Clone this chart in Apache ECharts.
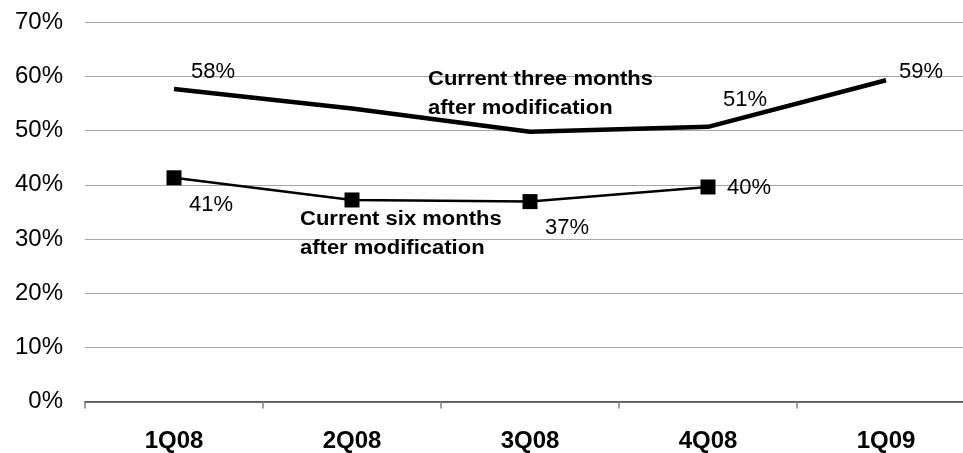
<!DOCTYPE html>
<html>
<head>
<meta charset="utf-8">
<script src="https://cdn.jsdelivr.net/npm/echarts@6/dist/echarts.min.js"></script>
<style>
html,body{margin:0;padding:0;background:#fff;}
#chart{width:963px;height:453px;}
</style>
</head>
<body>
<div id="chart"></div>
<script>
var categories = ['1Q08', '2Q08', '3Q08', '4Q08', '1Q09'];
var threeMonths = [57.7, 54.1, 49.8, 50.7, 59.3];
var sixMonths = [41.3, 37.2, 36.9, 39.6, null];
var threeMonthLabels = ['58%', '', '', '51%', '59%'];
var sixMonthLabels = ['41%', '', '37%', '40%', ''];
var yTicks = [0, 10, 20, 30, 40, 50, 60, 70];
var annotations = [
  ['Current three months', 'after modification'],
  ['Current six months', 'after modification']
];

var FONT = '"Liberation Sans", Arial, sans-serif';
var threeOffsets = [[39, -17], [0, 0], [0, 0], [37, -27], [35, -8]];
var sixOffsets = [[37, 27], [0, 0], [37, 26], [41, 1], [0, 0]];

function buildData(values, labels, offsets) {
  return values.map(function (v, i) {
    var d = { value: v };
    if (labels[i]) {
      d.label = {
        show: true,
        formatter: labels[i],
        position: 'inside',
        align: 'center',
        verticalAlign: 'middle',
        offset: offsets[i],
        color: '#000',
        fontSize: 22,
        fontFamily: FONT
      };
    } else {
      d.label = { show: false };
    }
    return d;
  });
}

var chart = echarts.init(document.getElementById('chart'), null, { renderer: 'canvas' });
var annoPos = [[428, 79.5, 108], [300, 219.5, 248]];
var graphics = [];
annotations.forEach(function (lines, k) {
  lines.forEach(function (t, j) {
    graphics.push({
      type: 'text',
      x: annoPos[k][0],
      y: annoPos[k][1 + j],
      scaleX: 1.1,
      z: 10,
      style: {
        text: t,
        fontSize: 20,
        fontWeight: 'bold',
        fontFamily: FONT,
        fill: '#000',
        verticalAlign: 'middle',
        align: 'left'
      }
    });
  });
});

chart.setOption({
  animation: false,
  backgroundColor: '#fff',
  grid: { left: 85, right: -12, top: 22.3, bottom: 51.5, containLabel: false, outerBoundsMode: 'none' },
  xAxis: {
    type: 'category',
    data: categories,
    boundaryGap: true,
    axisLine: { show: true, lineStyle: { color: '#404040', width: 1.5 } },
    axisTick: { show: true, alignWithLabel: false, length: 7, lineStyle: { color: '#808080', width: 1.5 } },
    axisLabel: { color: '#000', fontSize: 24, fontWeight: 'bold', fontFamily: FONT, margin: 28 },
    splitLine: { show: false }
  },
  yAxis: {
    type: 'value',
    min: yTicks[0],
    max: yTicks[yTicks.length - 1],
    interval: 10,
    axisLine: { show: false },
    axisTick: { show: false },
    axisLabel: { color: '#000', fontSize: 24, fontFamily: FONT, margin: 22, formatter: '{value}%' },
    splitLine: { show: true, lineStyle: { color: '#a6a6a6', width: 1.2 } }
  },
  series: [
    {
      name: 'Current three months after modification',
      type: 'line',
      data: buildData(threeMonths, threeMonthLabels, threeOffsets),
      symbol: 'circle',
      symbolSize: 0.01,
      showSymbol: true,
      lineStyle: { color: '#000', width: 4.5 },
      itemStyle: { color: '#000' },
      z: 3
    },
    {
      name: 'Current six months after modification',
      type: 'line',
      data: buildData(sixMonths, sixMonthLabels, sixOffsets),
      symbol: 'rect',
      symbolSize: 15,
      showSymbol: true,
      lineStyle: { color: '#000', width: 2.5 },
      itemStyle: { color: '#000' },
      z: 4
    }
  ],
  graphic: graphics
});
</script>
</body>
</html>
